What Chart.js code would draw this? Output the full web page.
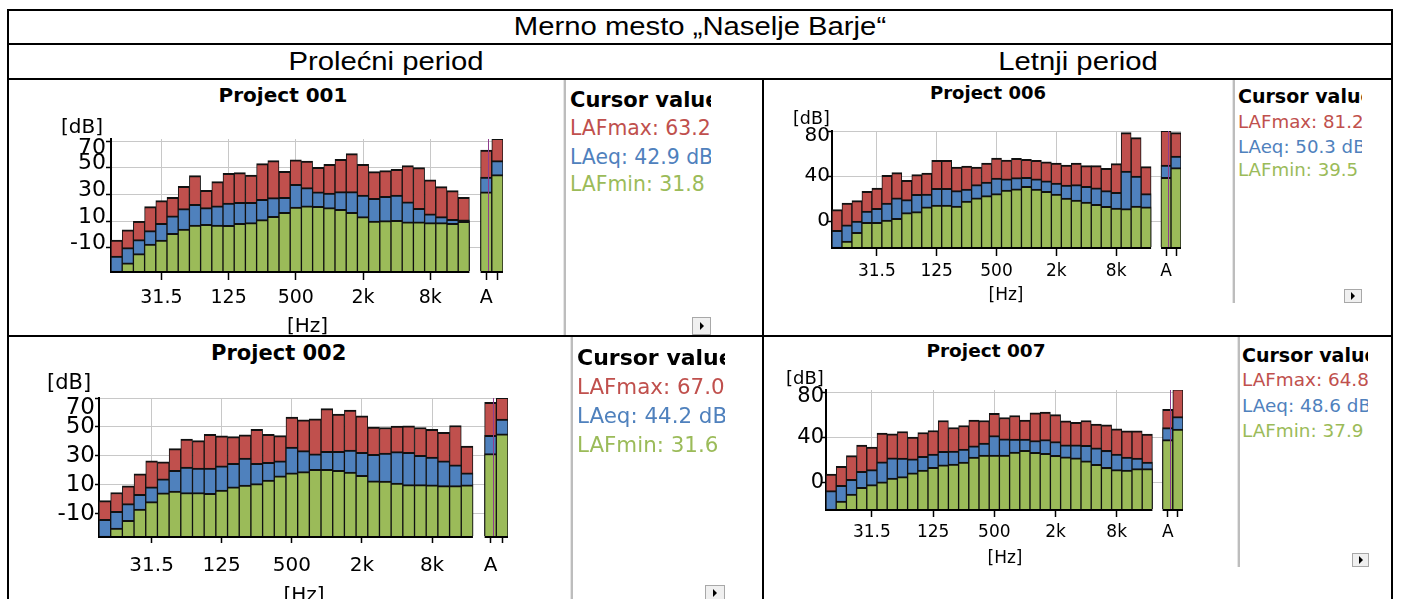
<!DOCTYPE html>
<html lang="sr"><head><meta charset="utf-8"><title>Merno mesto Naselje Barje</title>
<script src="https://cdn.jsdelivr.net/npm/chart.js@4.4.1/dist/chart.umd.min.js"></script>
<style>
html,body{margin:0;padding:0;background:#fff}
body{width:1404px;height:599px;position:relative;overflow:hidden}
.t{position:absolute;white-space:nowrap;line-height:1}
.ln{position:absolute;background:#000}
.cw{position:absolute}
.lg{position:absolute;overflow:hidden}
.sep{position:absolute;width:2px;background:#bdbdbd;border-left:1px solid #e6e6e6}
.btn{position:absolute;box-sizing:border-box;border:1px solid #a8a8a8;background:#f0f0f0}
.btn i{position:absolute;left:50%;top:50%;margin:-4px 0 0 -2px;width:0;height:0;border-left:4px solid #000;border-top:4px solid transparent;border-bottom:4px solid transparent}
</style></head><body>
<script>
// ---------- data ----------
const BAND_LABELS = ['12.5','16','20','25','31.5','40','50','63','80','100','125','160','200','250','315','400','500','630','800','1k','1.25k','1.6k','2k','2.5k','3.15k','4k','5k','6.3k','8k','10k','12.5k','16k'];
const OVERALL_LABELS = ['A','Z'];
const SHOWN_TICKS = ['31.5','125','500','2k','8k','A'];
const Y_TICKS_SPRING = [-10,10,30,50,70];
const Y_TICKS_SUMMER = [0,40,80];

const p001Max = [-4.3,3.3,9.8,20.8,25.3,27.8,36,44,33,39.5,45.8,46.3,44.5,53,55.3,47.3,55.8,55,50.3,52.5,56.3,60.5,52.5,47,47.8,48.8,51.5,50,40.8,35.8,32.8,27.8];
const p001Eq  = [-16.3,-10,-4,2.8,8.3,13.8,19.3,22.5,20,21.3,23.5,24,24,26.3,27.5,27.8,37.5,35,31.8,31,32,32,29.5,27,28.5,29.5,24.3,19.5,15.3,13.3,11.3,10.8];
const p001Min = [-30,-21.3,-14.5,-7.3,-4.3,0.8,4,7,7.5,7,6.8,8.3,8.8,11,13.5,16.5,20.5,21.3,21,20,18.8,16.5,13.3,10,10.3,10.5,9.3,9.3,8.8,8.8,8.3,9.8];
const p001OverallMax = [63.2,72];
const p001OverallEq  = [42.9,55.3];
const p001OverallMin = [31.8,44.8];

const p002Max = [-1,4.6,9.2,17.6,26.6,25.9,35,41.5,40.5,44.9,43.8,43.3,44.5,48.4,44.9,44,56.8,54.9,55.6,62.6,58.9,61.6,57.7,49.8,49.6,50.5,50.7,49.6,48.4,46.3,51,36.8];
const p002Eq  = [-14,-8.4,-3.1,3.4,8.5,14.1,19.9,22.2,21.5,21.5,23.1,24.8,28.5,24.8,25.5,26.6,36.1,33.6,31.3,33.1,33.1,34,32.4,31,31.9,32.9,32.4,30.3,29.2,26.6,23.8,18.3];
const p002Min = [-28,-20,-14.7,-6.8,-1.7,4.3,5.5,4.6,4.6,4.1,6.2,8.5,9.7,10.8,13.2,16.2,18.3,19,20.6,20.6,19.9,18.7,16.4,12.7,12.5,11.1,10.1,10.1,9.9,9.4,9.4,9.9];
const p002OverallMax = [67.0,70.5];
const p002OverallEq  = [44.2,55.4];
const p002OverallMin = [31.6,45.2];

const p006Max = [10.7,16.6,18.7,27,29.9,41.2,43.6,36.7,41.8,43.3,54.5,54.5,48.6,49.5,48.6,52.1,56.6,54.8,56.3,55.4,54.5,53.3,52.1,50.4,52.1,49.8,49.8,47.4,51.6,79.1,74.7,48.9];
const p006Eq  = [-7.7,-2.7,0.6,9.5,11.9,16.6,21.3,19.6,24.3,24.6,29.6,29.6,27.6,29,32.9,35.3,38.8,38.2,39.1,39.4,38.2,36.4,34.4,32.6,32.9,31.4,30.2,27.6,26.1,45,40.6,24.9];
const p006Min = [-25,-17.2,-9.5,-0.6,-0.6,1.5,3,8,8.9,13.3,14.8,14.8,13.9,18.4,21.3,23.1,24.9,28.1,29.3,31.4,29,27,24.6,21,19.3,17.5,15.4,13.6,12.1,11.6,13.9,13.3];
const p006OverallMax = [81.2,79.1];
const p006OverallEq  = [50.3,58.4];
const p006OverallMin = [39.5,48];

const p007Max = [7.4,14.2,23.7,33.1,31.3,43.7,43.1,45.2,40.2,44.3,46.1,54.9,48.7,50.5,55.2,54.9,61.4,57.6,59.4,55.2,61.7,62.3,60.2,54.6,53.2,54.9,51.7,51.1,47.6,45.8,45.8,42.8];
const p007Eq  = [-7.3,-2.6,2.7,9.8,11.3,18.3,21.9,21.6,21,23.1,25.1,27.5,27.8,29.6,32.5,34.9,41.6,38.7,38.4,38.4,37.2,38.1,36.3,33.4,33.4,32.8,30.7,28.4,25.1,22.5,21.6,18];
const p007Min = [-26,-16.5,-10.3,-4.4,-2,0.4,3.9,5.1,8.6,11,13.3,15.7,16.3,18,22.5,24.2,24.2,24.2,26.9,28.4,26.6,25.7,24,22.8,21.9,19.2,16,13.3,11.3,11,12.2,12.2];
const p007OverallMax = [64.8,83];
const p007OverallEq  = [48.6,58.5];
const p007OverallMin = [37.9,47.3];

// ---------- styles ----------
const FONT = '"DejaVu Sans", Verdana, sans-serif';
const ARIAL = '"Liberation Sans", Arial, sans-serif';
const RED = '#c0504d', BLUE = '#4f81bd', GREEN = '#9bbb59';
Chart.defaults.font.family = FONT;
Chart.defaults.animation = false;

function el(cls, css, parent) {
  const d = document.createElement('div');
  d.className = cls;
  Object.assign(d.style, css);
  (parent || document.body).appendChild(d);
  return d;
}
function text(str, x, y, size, o = {}) {
  const d = el('t', {fontSize: size + 'px', fontFamily: o.family || FONT, color: o.color || '#000',
    fontWeight: o.bold ? 'bold' : 'normal', top: (y - 0.49 * size) + 'px', left: x + 'px'}, o.parent);
  d.textContent = str;
  if (o.center) d.style.transform = `translateX(-50%) scaleX(${o.sx || 1})`;
  return d;
}

// ---------- table frame ----------
[[7,9,1386,2],[7,43,1386,2],[7,78,1386,2],[7,335,1386,2],[7,9,2,590],[1391,9,2,590],[762,78,2,521]]
  .forEach(([l,t,w,h]) => el('ln', {left:l+'px', top:t+'px', width:w+'px', height:h+'px'}));
text('Merno mesto \u201ENaselje Barje\u201C', 700, 26, 25, {family: ARIAL, center: true, sx: 1.17});
text('Prole\u0107ni period', 385.5, 61, 25, {family: ARIAL, center: true, sx: 1.17});
text('Letnji period', 1077.5, 61, 25, {family: ARIAL, center: true, sx: 1.17});

// ---------- panels ----------
const panels = [
  {title:'Project 001', max:p001Max, eq:p001Eq, min:p001Min, oMax:p001OverallMax, oEq:p001OverallEq, oMin:p001OverallMin,
   plot:{left:111, top:139, right:503, bottom:271}, yMin:-27.5, yMax:71.5, yTicks:Y_TICKS_SPRING,
   yFont:22, xFont:19, xPad:7, xTick:9, yTick:5, yPad:0, topShift:7, otherShift:-4,
   titleAt:[283,95,20], dbAt:[61,126,20], hzAt:[307.5,325,20],
   lg:{sep:[563,80,255], left:570, rows:[100,128.3,156.7,184], size:20.4, titleSize:21, clip:711, btn:[692,317,19,18]}},
  {title:'Project 002', max:p002Max, eq:p002Eq, min:p002Min, oMax:p002OverallMax, oEq:p002OverallEq, oMin:p002OverallMin,
   plot:{left:99, top:398, right:508, bottom:536}, yMin:-25.5, yMax:70, yTicks:Y_TICKS_SPRING,
   yFont:23, xFont:20, xPad:11, xTick:7, yTick:4, yPad:0, topShift:10, otherShift:0,
   titleAt:[278.7,353,21], dbAt:[47,382,21], hzAt:[304,594,20],
   lg:{sep:[570,337,262], left:577, rows:[358,386.7,415,444], size:21.4, titleSize:22, clip:725, btn:[705,585,20,16]}},
  {title:'Project 006', max:p006Max, eq:p006Eq, min:p006Min, oMax:p006OverallMax, oEq:p006OverallEq, oMin:p006OverallMin,
   plot:{left:832, top:131, right:1181, bottom:247}, yMin:-22.5, yMax:80.6, yTicks:Y_TICKS_SUMMER,
   yFont:20, xFont:17, xPad:5, xTick:9, yTick:4, yPad:-2, topShift:4, otherShift:-1,
   titleAt:[988,93,18], dbAt:[793,119,17.5], hzAt:[1006,294,17],
   lg:{sep:[1232,80,223], left:1238, rows:[96.7,121.7,146.7,170], size:18.2, titleSize:19, clip:1362, btn:[1344,289,18,14]}},
  {title:'Project 007', max:p007Max, eq:p007Eq, min:p007Min, oMax:p007OverallMax, oEq:p007OverallEq, oMin:p007OverallMin,
   plot:{left:826, top:390, right:1183, bottom:509}, yMin:-23.6, yMax:82, yTicks:Y_TICKS_SUMMER,
   yFont:21, xFont:17, xPad:5, xTick:8, yTick:4, yPad:-2, topShift:4, otherShift:0,
   titleAt:[986,351,18.5], dbAt:[786,378,18], hzAt:[1005,557,17],
   lg:{sep:[1237,337,230], left:1242, rows:[355,380,405.7,430.7], size:18.4, titleSize:19, clip:1368, btn:[1352,553,17,14]}}
];

const LABELS = [...BAND_LABELS, '', ...OVERALL_LABELS];
const GAP_IDX = BAND_LABELS.length, A_IDX = GAP_IDX + 1;

const axisPlugin = {
  id: 'axisSegments',
  afterDatasetsDraw(chart) {
    const {ctx, chartArea: a, scales: {x}} = chart;
    const half = (x.getPixelForValue(1) - x.getPixelForValue(0)) / 2;
    ctx.save();
    // cursor line at overall "A"
    const cx = Math.round(x.getPixelForValue(A_IDX) + half * 0.4) + 0.5;
    ctx.strokeStyle = '#8e3c8e'; ctx.lineWidth = 1;
    ctx.beginPath(); ctx.moveTo(cx, a.top); ctx.lineTo(cx, a.bottom); ctx.stroke();
    // x axis line in two segments
    ctx.strokeStyle = '#000'; ctx.lineWidth = 2;
    const y = a.bottom + 1;
    ctx.beginPath();
    ctx.moveTo(a.left - 1, y); ctx.lineTo(x.getPixelForValue(GAP_IDX - 1) + half, y);
    ctx.moveTo(x.getPixelForValue(A_IDX) - half, y); ctx.lineTo(a.right, y);
    ctx.stroke();
    ctx.restore();
  }
};

function makeChart(p) {
  const PADT = 16, PADR = 6, YW = 95, XH = 56;
  const left = p.plot.left - YW, top = p.plot.top - PADT;
  const cw = p.plot.right + PADR - left;
  const ch = PADT + (p.plot.bottom - p.plot.top) + XH;
  const wrap = el('cw', {left: left + 'px', top: top + 'px', width: cw + 'px', height: ch + 'px'});
  const cv = document.createElement('canvas');
  cv.width = cw; cv.height = ch; cv.style.width = cw + 'px'; cv.style.height = ch + 'px';
  wrap.appendChild(cv);
  const ser = (band, overall) => [...band, null, ...overall];
  const common = {base: p.yMin, grouped: false, barPercentage: 1, categoryPercentage: 1,
    borderColor: '#111', borderWidth: {top: 2, left: 1, right: 1, bottom: 0}, borderSkipped: false};
  const topVal = p.yTicks[p.yTicks.length - 1];
  new Chart(cv, {
    type: 'bar',
    data: {labels: LABELS, datasets: [
      {label: 'LAFmin', data: ser(p.min, p.oMin), backgroundColor: GREEN, ...common},
      {label: 'LAeq', data: ser(p.eq, p.oEq), backgroundColor: BLUE, ...common},
      {label: 'LAFmax', data: ser(p.max, p.oMax), backgroundColor: RED, ...common}
    ]},
    options: {
      responsive: false, animation: false, events: [],
      layout: {padding: {left: 0, top: PADT, right: PADR, bottom: 0}},
      plugins: {legend: {display: false}, tooltip: {enabled: false}, title: {display: false}},
      scales: {
        x: {
          type: 'category', offset: true,
          border: {display: false},
          grid: {offset: false, lineWidth: 1, tickLength: p.xTick, tickWidth: 1.5,
            color: c => (SHOWN_TICKS.includes(LABELS[c.index]) && LABELS[c.index] !== 'A') ? '#c8c8c8' : 'rgba(0,0,0,0)',
            tickColor: c => (SHOWN_TICKS.includes(LABELS[c.index]) || c.index === LABELS.length - 1) ? '#000' : 'rgba(0,0,0,0)'},
          ticks: {autoSkip: false, maxRotation: 0, minRotation: 0, padding: p.xPad, color: '#000',
            font: {family: FONT, size: p.xFont, lineHeight: 1.2},
            callback: (v, i) => SHOWN_TICKS.includes(LABELS[i]) ? LABELS[i] : ''},
          afterFit: s => { s.height = XH; s.paddingLeft = 0; s.paddingRight = 0; }
        },
        y: {
          min: p.yMin, max: p.yMax,
          border: {color: '#000', width: 2},
          grid: {color: '#c8c8c8', lineWidth: 1, tickColor: '#000', tickLength: p.yTick, tickWidth: 1.5},
          afterBuildTicks: s => { s.ticks = p.yTicks.map(v => ({value: v})); },
          ticks: {autoSkip: false, padding: p.yPad, color: '#000',
            font: {family: FONT, size: p.yFont, lineHeight: '1px'},
            callback: v => {
              const sh = v === topVal ? p.topShift : p.otherShift;
              const n = Math.round(Math.abs(sh));
              if (!n) return String(v);
              const blanks = Array(2 * n).fill('');
              return sh > 0 ? [...blanks, String(v)] : [String(v), ...blanks];
            }},
          afterFit: s => { s.width = YW; s.paddingTop = 0; s.paddingBottom = 0; }
        }
      }
    },
    plugins: [axisPlugin]
  });

  // texts around the plot
  text(p.title, p.titleAt[0], p.titleAt[1], p.titleAt[2], {bold: true, center: true});
  text('[dB]', p.dbAt[0], p.dbAt[1], p.dbAt[2]);
  text('[Hz]', p.hzAt[0], p.hzAt[1], p.hzAt[2], {center: true});

  // cursor value side panel
  const L = p.lg;
  el('sep', {left: L.sep[0] + 'px', top: L.sep[1] + 'px', height: L.sep[2] + 'px'});
  const boxTop = L.rows[0] - L.titleSize;
  const box = el('lg', {left: L.left + 'px', top: boxTop + 'px', width: (L.clip - L.left) + 'px',
    height: (L.rows[3] - L.rows[0] + 2 * L.titleSize) + 'px'});
  const lines = [
    ['Cursor value', '#000', true],
    ['LAFmax: ' + p.oMax[0].toFixed(1), RED, false],
    ['LAeq: ' + p.oEq[0].toFixed(1) + ' dB', BLUE, false],
    ['LAFmin: ' + p.oMin[0].toFixed(1), GREEN, false]
  ];
  lines.forEach(([s, c, b], i) => text(s, 0, L.rows[i] - boxTop, i === 0 ? L.titleSize : L.size,
    {color: c, bold: b, parent: box}));
  const btn = el('btn', {left: L.btn[0] + 'px', top: L.btn[1] + 'px', width: L.btn[2] + 'px', height: L.btn[3] + 'px'});
  btn.appendChild(document.createElement('i'));
}

panels.forEach(makeChart);
</script>
</body></html>
